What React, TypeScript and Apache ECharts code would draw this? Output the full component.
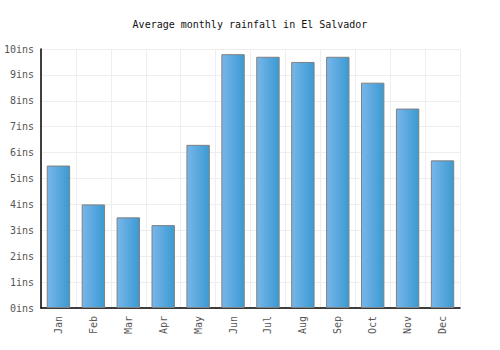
import React, { useEffect, useRef } from "react";
import * as echarts from "echarts";

const months = ["Jan", "Feb", "Mar", "Apr", "May", "Jun", "Jul", "Aug", "Sep", "Oct", "Nov", "Dec"];
const rainfall = [5.5, 4.0, 3.5, 3.2, 6.3, 9.8, 9.7, 9.5, 9.7, 8.7, 7.7, 5.7];
const titleText = "Average monthly rainfall in El Salvador";

export default function App() {
  const ref = useRef<HTMLDivElement>(null);
  useEffect(() => {
    const chart = echarts.init(ref.current!, null, { renderer: "svg" });
    const font = "'DejaVu Sans Mono', monospace";
    chart.setOption({
      animation: false,
      backgroundColor: "#ffffff",
      title: {
        text: titleText,
        left: "center",
        top: 14,
        textStyle: { fontFamily: font, fontSize: 10, fontWeight: "normal", color: "#111" },
      },
      grid: { left: 41, right: 40, top: 49, bottom: 42 },
      xAxis: {
        type: "category",
        data: months,
        axisLine: { lineStyle: { color: "#000", width: 1.5 } },
        axisTick: { show: false },
        splitLine: { show: true, lineStyle: { color: "#eeeeee" } },
        axisLabel: { rotate: 90, fontFamily: font, fontSize: 10, color: "#555", margin: 8 },
      },
      yAxis: {
        type: "value",
        min: 0,
        max: 10,
        interval: 1,
        axisLine: { show: true, lineStyle: { color: "#000", width: 1.5 } },
        axisTick: { show: false },
        splitLine: { lineStyle: { color: "#eeeeee" } },
        axisLabel: { formatter: "{value}ins", fontFamily: font, fontSize: 10, color: "#555", margin: 7 },
      },
      series: [
        {
          type: "bar",
          data: rainfall,
          barWidth: "67%",
          itemStyle: {
            borderColor: "#808080",
            borderWidth: 1,
            color: new echarts.graphic.LinearGradient(0, 0, 1, 0, [
              { offset: 0, color: "#78b6ea" },
              { offset: 1, color: "#3a9ad2" },
            ]),
          },
        },
      ],
    });
    return () => chart.dispose();
  }, []);
  return <div ref={ref} style={{ width: 500, height: 350, position: "absolute", left: 0, top: 0 }} />;
}
